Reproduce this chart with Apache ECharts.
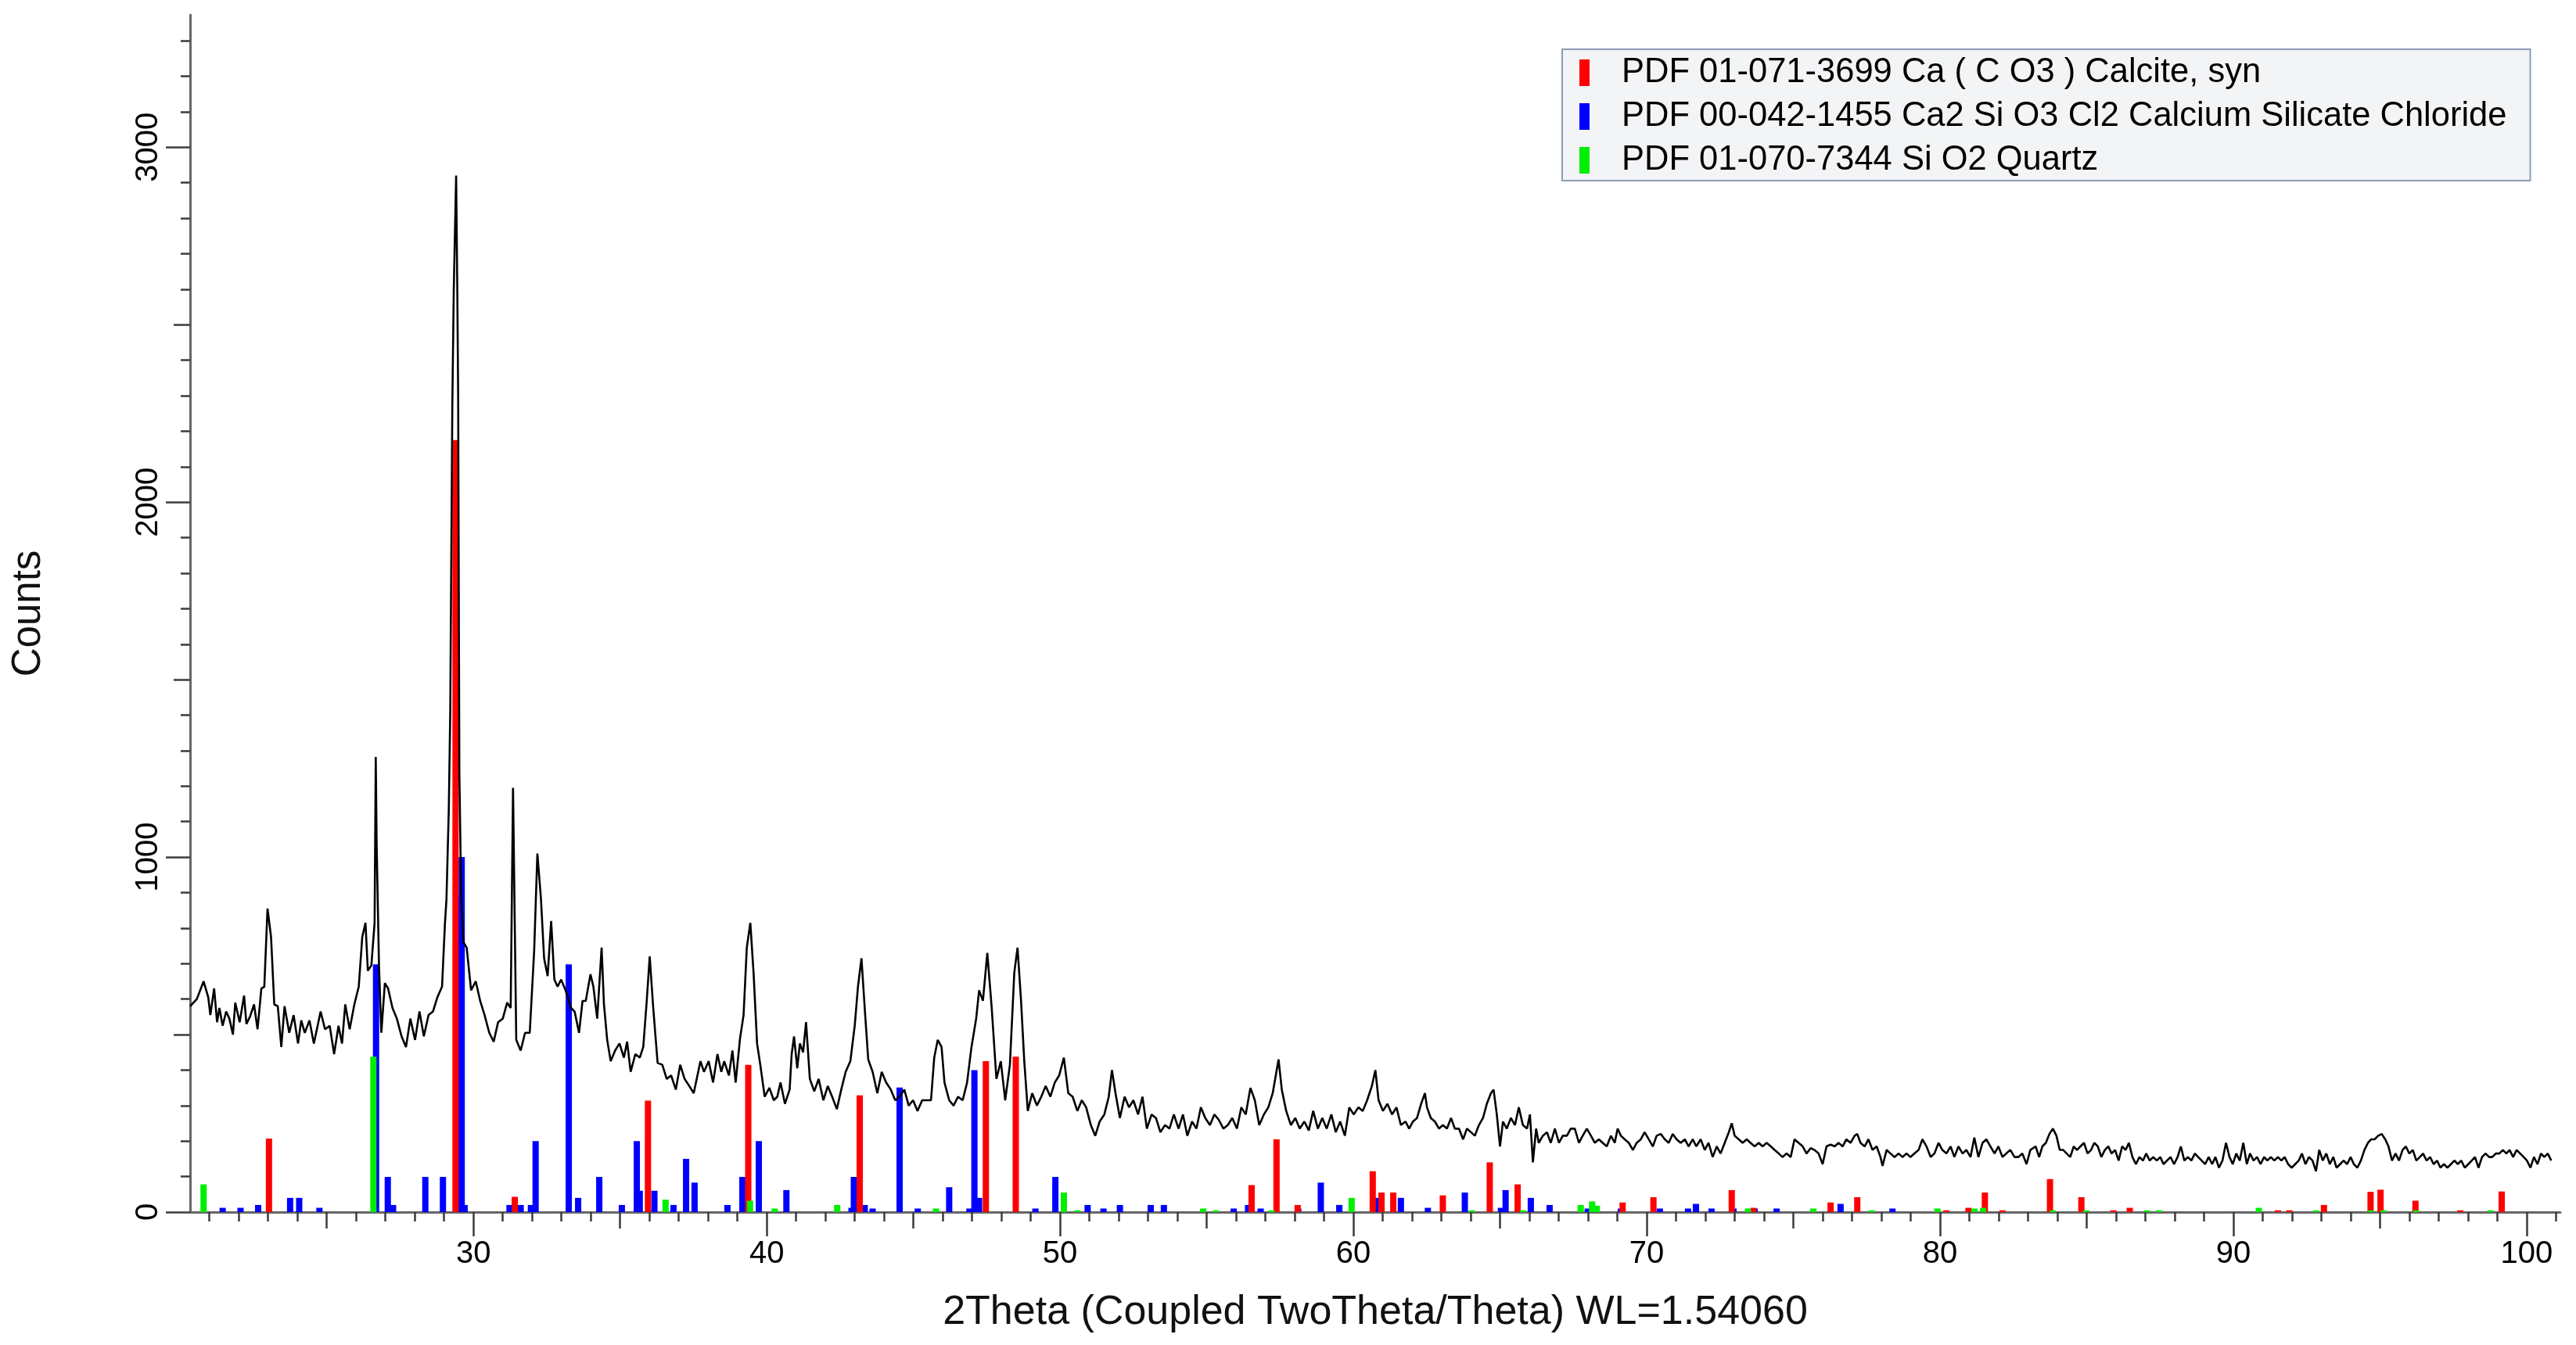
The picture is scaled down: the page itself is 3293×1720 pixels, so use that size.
<!DOCTYPE html>
<html>
<head>
<meta charset="utf-8">
<title>XRD pattern</title>
<script src="https://cdn.jsdelivr.net/npm/echarts@6/dist/echarts.min.js"></script>
<style>
  html, body { margin: 0; padding: 0; background: #fff; }
  #chart { width: 3293px; height: 1720px; }
</style>
</head>
<body>
<div id="chart"></div>
<script>
const scanLow = [
  [20.34,580],[20.57,600],[20.80,650],[20.96,605],[21.03,555],[21.16,630],[21.26,535],[21.34,575],[21.45,525],[21.57,565],
  [21.68,545],[21.80,500],[21.88,590],[22.03,535],[22.18,610],[22.26,530],[22.38,550],[22.52,585],[22.64,515],[22.77,630],
  [22.87,635],[22.98,855],[23.10,775],[23.21,585],[23.33,580],[23.45,465],[23.56,580],[23.72,505],[23.87,555],[24.02,475],
  [24.13,540],[24.25,505],[24.41,540],[24.56,475],[24.79,565],[24.94,515],[25.10,525],[25.25,445],[25.40,525],[25.52,475],
  [25.63,585],[25.78,515],[25.94,585],[26.09,635],[26.21,775],[26.32,815],[26.40,680],[26.52,695],[26.63,815],[26.67,1282],
  [26.70,1040],[26.78,695],[26.86,505],[26.98,645],[27.09,630],[27.24,575],[27.39,545],[27.55,495],[27.70,465],[27.85,545],
  [28.01,485],[28.16,565],[28.31,495],[28.47,555],[28.62,565],[28.77,605],[28.93,635],[29.03,815],[29.08,880],[29.16,1135],
  [29.21,1410],[29.28,2270],[29.33,2600],[29.41,2920],[29.45,2600],[29.48,2290],[29.52,1240],[29.58,900],[29.66,760],[29.77,745],
  [29.92,625],[30.08,650],[30.23,595],[30.38,555],[30.54,505],[30.69,480],[30.84,535],[31.00,545],[31.15,590],[31.27,575],
  [31.35,1195],[31.46,485],[31.61,455],[31.76,505],[31.92,505],[32.07,735],[32.18,1010],[32.30,885],[32.41,715],[32.53,665],
  [32.65,820],[32.76,655],[32.87,635],[32.99,655],[33.14,625],[33.33,575],[33.45,565],[33.60,505],[33.72,595],[33.83,595],
  [33.99,670],[34.09,635],[34.22,545],[34.37,745],[34.45,585],[34.56,485],[34.68,425],[34.83,455],[34.98,475],[35.13,435],
  [35.24,480],[35.36,395],[35.52,445],[35.67,435],[35.79,465],[35.90,585],[36.01,720],[36.13,575],[36.28,420],[36.44,415],
  [36.59,375],[36.74,385],[36.90,345],[37.05,415],[37.20,375],[37.36,355],[37.51,335],[37.74,425]
];
const scanMid = [
  [37.86,395],[38.02,425],[38.17,365],[38.32,445],[38.45,395],[38.55,425],[38.71,385],[38.83,455],[38.94,365],[39.09,490],
  [39.21,555],[39.32,745],[39.44,815],[39.55,675],[39.67,475],[39.78,415],[39.93,325],[40.09,350],[40.24,315],[40.36,325],
  [40.47,365],[40.62,305],[40.78,345],[40.85,445],[40.93,495],[41.04,405],[41.13,475],[41.24,450],[41.34,535],[41.47,375],
  [41.62,340],[41.77,375],[41.93,315],[42.08,355],[42.23,325],[42.39,290],[42.54,345],[42.69,395],[42.85,425],[43.00,525],
  [43.11,635],[43.23,715],[43.34,575],[43.46,430],[43.61,395],[43.77,335],[43.92,395],[44.07,365],[44.23,345],[44.38,315],
  [44.53,325],[44.69,345],[44.84,300],[44.99,315],[45.14,285],[45.30,315],[45.45,315],[45.60,315],[45.71,435],[45.83,485],
  [45.96,465],[46.06,365],[46.22,315],[46.37,300],[46.52,325],[46.68,315],[46.83,365],[46.98,465],[47.14,545],[47.24,625],
  [47.37,595],[47.52,730],[47.67,575],[47.83,375],[47.98,425],[48.13,315],[48.29,415],[48.44,675],[48.55,745],[48.67,595],
  [48.78,425],[48.90,285],[49.05,335],[49.21,300],[49.36,325],[49.51,355],[49.67,325],[49.82,365],[49.97,385],[50.13,435],
  [50.28,335],[50.43,325],[50.59,285],[50.74,315],[50.89,295],[51.05,245],[51.20,215],[51.35,255],[51.51,275],[51.66,325],
  [51.77,400],[51.89,335],[52.04,265],[52.20,325],[52.35,295],[52.50,315],[52.66,275],[52.81,325],[52.96,235],[53.12,275],
  [53.27,265],[53.42,225],[53.58,245],[53.73,235],[53.88,275],[54.04,235],[54.19,275],[54.34,215],[54.50,255],[54.65,235],
  [54.80,295],[54.95,265],[55.11,245],[55.26,275],[55.41,260],[55.57,235],[55.72,245],[55.87,265],[56.03,235],[56.18,295],
  [56.33,275],[56.49,350],[56.64,315],[56.79,245],[56.95,275],[57.10,295],[57.25,335],[57.45,430],[57.56,345],[57.71,285],
  [57.87,245],[58.02,265],[58.17,235],[58.33,255],[58.48,230],[58.63,285],[58.79,235],[58.94,265],[59.09,235],[59.25,275],
  [59.40,225],[59.55,255],[59.71,215],[59.86,295],[60.01,275],[60.17,295],[60.32,285],[60.47,315],[60.63,355],[60.75,400],
  [60.86,315],[61.01,285],[61.16,305],[61.32,275],[61.47,295],[61.62,245],[61.78,255]
];
const scanHigh = [
  [61.90,235],[62.03,255],[62.17,265],[62.31,305],[62.44,335],[62.51,295],[62.64,265],[62.78,255],[62.92,235],[63.05,245],
  [63.19,235],[63.33,265],[63.46,235],[63.60,235],[63.74,205],[63.87,235],[64.01,225],[64.14,215],[64.28,245],[64.42,265],
  [64.55,305],[64.69,335],[64.78,345],[64.89,275],[65.00,185],[65.10,255],[65.23,235],[65.37,265],[65.51,245],[65.64,295],
  [65.78,245],[65.92,235],[66.02,275],[66.12,140],[66.23,235],[66.32,195],[66.46,215],[66.60,225],[66.73,195],[66.87,235],
  [67.01,195],[67.14,215],[67.28,215],[67.41,235],[67.55,235],[67.69,195],[67.82,215],[67.96,235],[68.10,215],[68.23,195],
  [68.37,205],[68.50,195],[68.64,185],[68.78,215],[68.91,195],[69.01,235],[69.12,215],[69.25,205],[69.39,195],[69.53,175],
  [69.66,195],[69.80,205],[69.93,225],[70.07,205],[70.21,185],[70.34,215],[70.48,220],[70.62,205],[70.75,195],[70.89,220],
  [71.02,205],[71.16,195],[71.30,205],[71.43,185],[71.57,205],[71.69,185],[71.84,205],[71.98,175],[72.11,195],[72.25,155],
  [72.39,185],[72.52,165],[72.66,195],[72.80,225],[72.90,250],[73.00,215],[73.14,205],[73.27,195],[73.41,205],[73.54,195],
  [73.68,185],[73.82,195],[73.95,185],[74.09,195],[74.23,185],[74.36,175],[74.50,165],[74.63,155],[74.77,165],[74.91,155],
  [75.04,205],[75.18,195],[75.32,185],[75.45,165],[75.59,180],[75.72,175],[75.86,165],[76.00,135],[76.13,185],[76.27,190],
  [76.41,185],[76.54,195],[76.68,185],[76.81,205],[76.95,195],[77.09,215],[77.18,220],[77.29,195],[77.43,185],[77.56,205],
  [77.70,175],[77.84,185],[77.97,155],[78.04,130],[78.18,175],[78.31,165],[78.45,155],[78.59,165],[78.72,155],[78.86,165],
  [78.99,155],[79.13,165],[79.27,175],[79.40,205],[79.54,185],[79.68,155],[79.81,165],[79.95,195],[80.08,175],[80.22,165],
  [80.36,185],[80.49,155],[80.63,185],[80.77,165],[80.90,175],[81.04,155],[81.17,210],[81.31,155],[81.45,195],[81.58,205],
  [81.72,185],[81.86,165],[81.99,185],[82.13,155],[82.26,165],[82.40,175],[82.54,155],[82.67,155],[82.81,165],[82.95,135],
  [83.08,175]
];
const scanTail = [
  [83.26,185],[83.38,155],[83.49,185],[83.61,195],[83.73,220],[83.85,235],[83.97,215],[84.08,175],[84.20,175],[84.32,165],
  [84.44,155],[84.56,185],[84.67,175],[84.79,185],[84.91,195],[85.03,165],[85.15,175],[85.26,195],[85.38,185],[85.50,155],
  [85.62,175],[85.74,185],[85.85,165],[85.97,175],[86.09,145],[86.21,185],[86.33,175],[86.44,195],[86.56,155],[86.68,135],
  [86.80,155],[86.92,145],[87.03,165],[87.15,145],[87.27,155],[87.39,145],[87.51,155],[87.62,135],[87.74,145],[87.86,155],
  [87.98,135],[88.10,155],[88.21,185],[88.33,145],[88.45,155],[88.57,145],[88.69,165],[88.80,155],[88.92,145],[89.04,135],
  [89.16,155],[89.28,135],[89.39,155],[89.51,125],[89.63,145],[89.75,195],[89.87,155],[89.98,135],[90.10,165],[90.22,145],
  [90.34,195],[90.46,135],[90.57,165],[90.69,145],[90.81,155],[90.93,135],[91.05,155],[91.16,145],[91.28,155],[91.40,145],
  [91.52,155],[91.64,145],[91.75,155],[91.87,135],[91.99,125],[92.11,135],[92.23,145],[92.34,165],[92.46,135],[92.58,155],
  [92.70,145],[92.82,115],[92.93,175],[93.05,145],[93.17,165],[93.29,135],[93.41,155],[93.52,125],[93.64,135],[93.76,145],
  [93.88,135],[94.00,155],[94.11,135],[94.23,125],[94.35,145],[94.47,175],[94.59,195],[94.70,205],[94.82,205],[94.94,215],
  [95.06,220],[95.18,205],[95.29,185],[95.41,145],[95.53,165],[95.65,145],[95.77,175],[95.88,185],[96.00,165],[96.12,175],
  [96.24,145],[96.36,155],[96.47,165],[96.59,145],[96.71,155],[96.83,135],[96.95,145],[97.06,125],[97.18,135],[97.30,125],
  [97.42,135],[97.54,145],[97.65,135],[97.77,145],[97.89,125],[98.01,135],[98.13,145],[98.24,155],[98.36,125],[98.48,155],
  [98.60,165],[98.72,155],[98.83,155],[98.95,165],[99.07,165],[99.19,175],[99.31,165],[99.42,175],[99.54,155],[99.66,175],
  [99.78,165],[99.90,155],[100.01,145],[100.13,125],[100.25,155],[100.37,135],[100.49,165],[100.60,155],[100.72,165],[100.84,145]
];

// reference sticks, [2theta, intensity]
const calcite = [
  [23.03,207],[29.39,2175],[31.41,43],[35.95,314],[39.37,415],[43.17,329],[47.47,425],[48.49,438],[56.53,76],[57.38,205],
  [58.10,20],[60.66,115],[60.96,55],[61.36,55],[63.05,47],[64.65,140],[65.60,78],[69.18,27],[70.23,42],[72.90,62],
  [73.64,12],[76.27,27],[77.18,42],[80.22,5],[80.97,12],[81.53,55],[82.13,5],[83.75,93],[84.82,42],[85.91,5],
  [86.47,12],[91.52,5],[91.91,5],[93.09,20],[94.68,57],[95.02,63],[96.21,32],[97.74,5],[99.15,58]
];
const silicateChloride = [
  [21.45,12],[22.06,12],[22.66,20],[23.75,40],[24.06,40],[24.75,12],[26.68,698],[27.08,99],[27.26,20],[28.36,99],
  [28.96,99],[29.47,890],[29.60,1000],[29.70,20],[31.23,20],[31.61,20],[31.96,20],[32.12,200],[33.25,698],[33.57,40],
  [34.29,99],[35.06,20],[35.57,200],[35.67,60],[36.17,60],[36.82,20],[37.25,150],[37.54,83],[38.66,20],[39.17,99],
  [39.73,200],[40.67,62],[42.89,12],[42.97,99],[43.34,20],[43.61,10],[44.53,351],[45.15,10],[46.22,70],[46.91,10],
  [47.08,400],[47.24,40],[49.16,10],[49.84,99],[50.94,20],[51.48,10],[52.04,20],[53.09,20],[53.54,20],[55.92,10],
  [56.41,20],[56.84,10],[58.12,10],[58.89,83],[59.52,20],[60.81,40],[61.62,40],[62.54,12],[63.80,55],[65.03,12],
  [65.19,62],[66.05,40],[66.69,20],[67.99,10],[69.12,10],[70.45,10],[71.41,10],[71.68,23],[72.21,10],[72.96,10],
  [73.68,10],[74.43,10],[76.61,23],[78.38,10]
];
const quartz = [
  [20.80,78],[26.59,438],[36.55,35],[39.43,32],[40.27,10],[42.40,20],[45.77,10],[50.13,55],[50.59,5],[54.88,10],
  [55.31,5],[57.21,5],[59.94,40],[64.04,5],[65.78,5],[67.75,20],[68.14,30],[68.30,18],[73.45,10],[75.68,10],
  [77.67,5],[79.91,10],[81.17,10],[81.47,12],[83.85,5],[84.99,5],[87.06,5],[87.47,5],[90.87,12],[92.82,5],
  [94.68,5],[95.12,5],[96.24,5],[98.77,5]
];

const phaseNames = [
  'PDF 01-071-3699 Ca ( C O3 ) Calcite, syn',
  'PDF 00-042-1455 Ca2 Si O3 Cl2 Calcium Silicate Chloride',
  'PDF 01-070-7344 Si O2 Quartz'
];

// tick positions
const xMinorTicks = [21,22,23,24,26,27,28,29,31,32,33,34,36,37,38,39,41,42,43,44,46,47,48,49,51,52,53,54,56,57,58,59,
  61,62,63,64,66,67,68,69,71,72,73,74,76,77,78,79,81,82,83,84,86,87,88,89,91,92,93,94,96,97,98,99,101];
const xMidTicks = [25,35,45,55,65,75,85,95];
const xMajorTicks = [30,40,50,60,70,80,90,100];
const yMinorTicks = [100,200,300,400,600,700,800,900,1100,1200,1300,1400,1600,1700,1800,1900,
  2100,2200,2300,2400,2600,2700,2800,2900,3100,3200,3300];
const yMidTicks = [500,1500,2500];
const yMajorTicks = [0,1000,2000,3000];

const FONT = '"Liberation Sans", Arial, Helvetica, sans-serif';
const X_MIN = 20.34, X_MAX = 101.15, Y_MAX = 3373;

function tickLayer(kind, ticks, len, extra) {
  const base = {
    type: 'value',
    min: kind === 'x' ? X_MIN : 0,
    max: kind === 'x' ? X_MAX : Y_MAX,
    position: kind === 'x' ? 'bottom' : 'left',
    axisLine: { show: false },
    axisTick: { show: true, customValues: ticks, length: len, lineStyle: { color: '#3c3c3c', width: 2.5 } },
    axisLabel: { show: false },
    splitLine: { show: false }
  };
  return Object.assign(base, extra || {});
}

const chart = echarts.init(document.getElementById('chart'));

chart.setOption({
  animation: false,
  backgroundColor: '#ffffff',
  grid: { left: 243, right: 20, top: 19, bottom: 170 },
  legend: {
    data: phaseNames,
    orient: 'vertical',
    left: 1997,
    top: 63,
    padding: [8, 30, 4, 22],
    itemGap: 12,
    itemWidth: 13,
    itemHeight: 34,
    icon: 'rect',
    selectedMode: false,
    backgroundColor: '#f3f4f6',
    borderColor: '#8d9cb3',
    borderWidth: 2,
    textStyle: { fontFamily: FONT, fontSize: 43.5, lineHeight: 42, color: '#000', padding: [0, 0, 0, 36] }
  },
  xAxis: [
    tickLayer('x', xMinorTicks, 12, {
      axisLine: { show: true, lineStyle: { color: '#666', width: 3 } },
      name: '2Theta (Coupled TwoTheta/Theta) WL=1.54060',
      nameLocation: 'middle',
      nameGap: 103,
      nameTextStyle: { fontFamily: FONT, fontSize: 52, color: '#111' }
    }),
    tickLayer('x', xMidTicks, 21),
    tickLayer('x', xMajorTicks, 31, {
      axisLabel: { show: true, customValues: xMajorTicks, fontFamily: FONT, fontSize: 40, color: '#000', margin: 34,
        formatter: v => String(v) }
    })
  ],
  yAxis: [
    tickLayer('y', yMinorTicks, 12, {
      axisLine: { show: true, lineStyle: { color: '#666', width: 3 } },
      name: 'Counts',
      nameLocation: 'middle',
      nameRotate: 90,
      nameGap: 181,
      nameTextStyle: { fontFamily: FONT, fontSize: 51, color: '#111' }
    }),
    tickLayer('y', yMidTicks, 21),
    tickLayer('y', yMajorTicks, 31, {
      axisLabel: { show: true, customValues: yMajorTicks, rotate: 90, fontFamily: FONT, fontSize: 40, color: '#000', margin: 33,
        formatter: v => String(v) }
    })
  ],
  series: [
    {
      name: phaseNames[1], type: 'bar', data: silicateChloride,
      barWidth: 8, barGap: '-100%', itemStyle: { color: '#0000ff' }, silent: true
    },
    {
      name: phaseNames[0], type: 'bar', data: calcite,
      barWidth: 8, barGap: '-100%', itemStyle: { color: '#ff0000' }, silent: true
    },
    {
      name: phaseNames[2], type: 'bar', data: quartz,
      barWidth: 8, barGap: '-100%', itemStyle: { color: '#00ee00' }, silent: true
    },
    {
      name: 'Scan', type: 'line',
      data: scanLow.concat(scanMid, scanHigh, scanTail),
      showSymbol: false, symbol: 'none',
      lineStyle: { color: '#000', width: 2.6 },
      z: 5, silent: true
    }
  ]
});
</script>
</body>
</html>
